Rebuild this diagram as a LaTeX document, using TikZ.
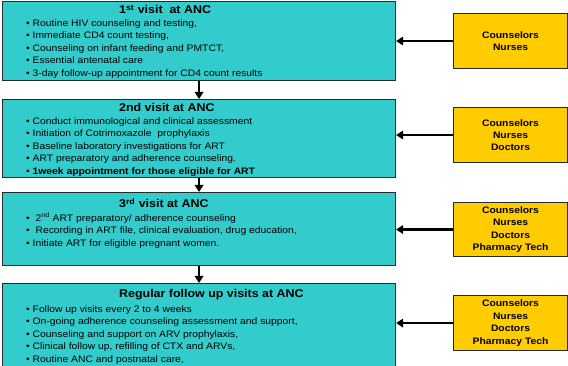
\documentclass[tikz,border=0pt]{standalone}
\usepackage{fontspec}
\setmainfont[FakeStretch=1.1]{Liberation Sans}
\usetikzlibrary{arrows.meta}
\definecolor{tealfill}{HTML}{33CCCC}
\definecolor{yellowfill}{HTML}{FFCC00}
\definecolor{edge}{HTML}{2A2A2A}
\tikzset{
  tealbox/.style={draw=edge, line width=1.1pt, fill=tealfill, rectangle, inner sep=0pt, anchor=north west, minimum width=393pt},
  yelbox/.style={draw=edge, line width=1.1pt, fill=yellowfill, rectangle, inner sep=0pt, anchor=north west, minimum width=114pt, minimum height=55pt, align=center, font=\fontsize{9.4}{12.4}\selectfont\bfseries},
  ttl/.style={anchor=base west, inner sep=0pt, font=\fontsize{11.3}{13}\selectfont\bfseries},
  item/.style={anchor=base west, inner sep=0pt, font=\fontsize{9.4}{12}\selectfont},
  arr/.style={line width=2.6pt, -{Triangle[length=7pt,width=8.5pt]}}
}
\begin{document}
\begin{tikzpicture}[x=1pt,y=-1pt]
\useasboundingbox (0,0) rectangle (568,366);
% teal boxes
\node[tealbox, minimum height=79pt] (b1) at (2,1) {};
\node[tealbox, minimum height=78pt] (b2) at (2,99) {};
\node[tealbox, minimum height=73pt] (b3) at (2,192) {};
\node[tealbox, minimum height=90pt] (b4) at (2,283) {};
% titles
\node[ttl] (t1) at (119,14) {1\textsuperscript{st} visit\ \ at ANC};
\node[ttl] (t2) at (119,112) {2nd visit at ANC};
\node[ttl] (t3) at (119,208) {3\textsuperscript{rd} visit at ANC};
\node[ttl] (t4) at (119,298) {Regular follow up visits at ANC};
% box 1 items
\foreach \t [count=\i] in {{Routine HIV counseling and testing,},{Immediate CD4 count testing,},{Counseling on infant feeding and PMTCT,},{Essential antenatal care},{3-day follow-up appointment for CD4 count results}}
  \node[item] (a\i) at (26,26.3+12.5*\i-12.5) {• \t};
% box 2 items
\foreach \t [count=\i] in {{Conduct immunological and clinical assessment},{Initiation of Cotrimoxazole\ \ prophylaxis},{Baseline laboratory investigations for ART},{ART preparatory and adherence counseling.},{\bfseries 1week appointment for those eligible for ART}}
  \node[item] (c\i) at (26,124.3+12.5*\i-12.5) {• \t};
% box 3 items
\node[item] (d1) at (26,221.3) {• \ 2\textsuperscript{nd} ART preparatory/ adherence counseling};
\node[item] (d2) at (26,233.8) {• \ Recording in ART file, clinical evaluation, drug education,};
\node[item] (d3) at (26,246.3) {• Initiate ART for eligible pregnant women.};
% box 4 items
\foreach \t [count=\i] in {{Follow up visits every 2 to 4 weeks},{On-going adherence counseling assessment and support,},{Counseling and support on ARV prophylaxis,},{Clinical follow up, refilling of CTX and ARVs,},{Routine ANC and postnatal care,}}
  \node[item] (e\i) at (26,312.3+12.5*\i-12.5) {• \t};
% yellow boxes
\node[yelbox] (y1) at (453,13) {Counselors\\Nurses};
\node[yelbox] (y2) at (453,107) {Counselors\\Nurses\\Doctors};
\node[yelbox, minimum height=54pt] (y3) at (453,202) {Counselors\\Nurses\\Doctors\\Pharmacy Tech};
\node[yelbox] (y4) at (453,295) {Counselors\\Nurses\\Doctors\\Pharmacy Tech};
% arrows
\draw[arr] (b1.south) -- (b2.north);
\draw[arr] (b2.south) -- (b3.north);
\draw[arr] (b3.south) -- (b4.north);
\draw[arr] (y1.west) -- (b1.east |- y1.west);
\draw[arr] (y2.west) -- (b2.east |- y2.west);
\draw[arr] (y3.west) -- (b3.east |- y3.west);
\draw[arr] (y4.west) -- (b4.east |- y4.west);
\end{tikzpicture}
\end{document}
